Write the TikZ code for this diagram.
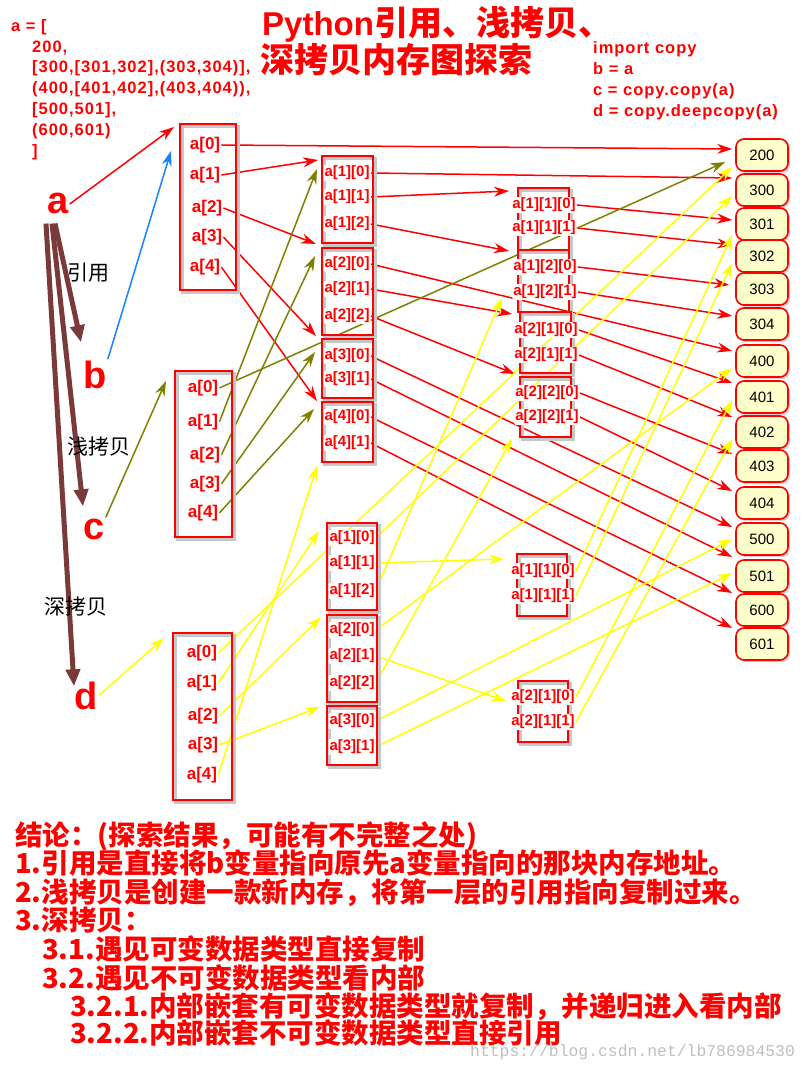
\documentclass[tikz,border=0pt]{standalone}
\usepackage{fontspec}
\setmainfont{Liberation Sans}
\newfontfamily\cjk{Noto Sans CJK SC}
\newfontfamily\codefont[LetterSpace=6]{Liberation Sans}
\newfontfamily\wmfont{Liberation Mono}
\usetikzlibrary{arrows.meta}
\usetikzlibrary{calc}
\usetikzlibrary{fit}
\usetikzlibrary{shadows}
\definecolor{ln1}{RGB}{255,0,0}
\definecolor{ln2}{RGB}{128,128,0}
\definecolor{ln3}{RGB}{255,255,0}
\definecolor{ln4}{RGB}{25,130,255}
\definecolor{brn}{RGB}{122,58,58}
\definecolor{valbg}{RGB}{255,255,204}
\pgfdeclarelayer{lines}
\pgfsetlayers{lines,main}

\begin{document}
\begin{tikzpicture} [
    x=1pt, y=-1pt,
    f/.style={-{Stealth[length=15pt,width=10pt]}, line width=1.5pt},
    bigarr/.style={draw=brn, line width=5pt, -{Triangle[length=17pt,width=14pt]}},
    lbl/.style={text=ln1, fill=white, rounded corners=2pt, font=\bfseries\fontsize{15}{15}\selectfont, inner sep=1pt},
    lbltop/.style={lbl, font=\bfseries\fontsize{17}{17}\selectfont},
    box/.style={
        draw=ln1, line width=2pt, inner sep=0pt,
        preaction={draw=black!22, line width=3pt, transform canvas={xshift=2.5pt,yshift=-2.5pt}}
    },
    val/.style={
        draw=ln1, line width=1.6pt, fill=valbg, rounded corners=8pt,
        minimum width=52pt, minimum height=32pt, inner sep=0pt,
        font=\fontsize{15}{15}\selectfont, text=black,
        drop shadow={shadow xshift=2pt, shadow yshift=-2pt, opacity=0.35}
    },
    varname/.style={text=ln1, font=\bfseries\fontsize{38}{38}\selectfont, inner sep=1pt, anchor=base},
    tagtxt/.style={text=black, font=\cjk\fontsize{21}{21}\selectfont},
    titletxt/.style={text=ln1, font=\bfseries\fontsize{33}{33}\selectfont, anchor=base west, inner sep=0pt},
    codetxt/.style={text=ln1, font=\codefont\bfseries\fontsize{16.5}{16.5}\selectfont, anchor=base west, inner sep=0pt},
    concl/.style={text=ln1, font=\cjk\bfseries\fontsize{27.5}{27.5}\selectfont, anchor=base west, inner sep=0pt},
    wm/.style={text=black!25, font=\wmfont\fontsize{16.4}{16.4}\selectfont, anchor=base west, inner sep=0pt}
]

\useasboundingbox (0,0) rectangle (806,1067);

% code and title
\node [titletxt] (title1) at (262,36) {Python{\cjk\fontsize{34}{34}\selectfont 引用、浅拷贝、}};
\node [titletxt] (title2) at (260,73) {\cjk\fontsize{34}{34}\selectfont 深拷贝内存图探索};

\node [codetxt] (c0) at (11,32)  {a = [};
\node [codetxt] (c1) at (32,53)  {200,};
\node [codetxt] (c2) at (32,73)  {[300,[301,302],(303,304)],};
\node [codetxt] (c3) at (32,94)  {(400,[401,402],(403,404)),};
\node [codetxt] (c4) at (32,115) {[500,501],};
\node [codetxt] (c5) at (32,136) {(600,601)};
\node [codetxt] (c6) at (32,157) {]};

\node [codetxt] (i0) at (593,54)  {import copy};
\node [codetxt] (i1) at (593,75)  {b = a};
\node [codetxt] (i2) at (593,96)  {c = copy.copy(a)};
\node [codetxt] (i3) at (593,117) {d = copy.deepcopy(a)};

% variables
\node [varname] (varA) at (58,214) {a};
\node [varname] (varB) at (95,388) {b};
\node [varname] (varC) at (94,539) {c};
\node [varname] (varD) at (86,709) {d};

\node [tagtxt] (tRef)     at (88,273) {引用};
\node [tagtxt] (tShallow) at (99,447) {浅拷贝};
\node [tagtxt] (tDeep)    at (76,607) {深拷贝};

% boxes
\node [box, fit={(180,124)(236,290)}] (bA) {};
\node [box, fit={(175,371)(232,537)}] (bC) {};
\node [box, fit={(173,633)(232,800)}] (bD) {};

\node [box, fit={(322,156)(373,243)}] (m1) {};
\node [box, fit={(322,248)(373,335)}] (m2) {};
\node [box, fit={(322,339)(373,398)}] (m3) {};
\node [box, fit={(322,402)(373,462)}] (m4) {};

\node [box, fit={(518,188)(569,250)}] (l11) {};
\node [box, fit={(518,250)(569,312)}] (l12) {};
\node [box, fit={(520,312)(571,373)}] (l21) {};
\node [box, fit={(520,377)(571,437)}] (l22) {};

\node [box, fit={(327,523)(377,610)}] (dm1) {};
\node [box, fit={(327,615)(377,702)}] (dm2) {};
\node [box, fit={(327,706)(377,765)}] (dm3) {};

\node [box, fit={(517,554)(567,616)}] (dl11) {};
\node [box, fit={(518,681)(568,742)}] (dl21) {};

% items
\node [lbltop] (a0) at (205,145) {a[0]};
\node [lbltop] (a1) at (205,175) {a[1]};
\node [lbltop] (a2) at (207,208) {a[2]};
\node [lbltop] (a3) at (207,237) {a[3]};
\node [lbltop] (a4) at (205,267) {a[4]};

\node [lbltop] (ca0) at (203,388) {a[0]};
\node [lbltop] (ca1) at (203,422) {a[1]};
\node [lbltop] (ca2) at (205,455) {a[2]};
\node [lbltop] (ca3) at (205,484) {a[3]};
\node [lbltop] (ca4) at (203,513) {a[4]};

\node [lbltop] (da0) at (202,653) {a[0]};
\node [lbltop] (da1) at (202,683) {a[1]};
\node [lbltop] (da2) at (203,716) {a[2]};
\node [lbltop] (da3) at (203,745) {a[3]};
\node [lbltop] (da4) at (202,775) {a[4]};

\node [lbl] (m10) at (347,173) {a[1][0]};
\node [lbl] (m11) at (347,197) {a[1][1]};
\node [lbl] (m12) at (347,224) {a[1][2]};
\node [lbl] (m20) at (347,264) {a[2][0]};
\node [lbl] (m21) at (347,289) {a[2][1]};
\node [lbl] (m22) at (347,316) {a[2][2]};
\node [lbl] (m30) at (347,356) {a[3][0]};
\node [lbl] (m31) at (347,379) {a[3][1]};
\node [lbl] (m40) at (347,417) {a[4][0]};
\node [lbl] (m41) at (347,443) {a[4][1]};

\node [lbl] (l110) at (544,205) {a[1][1][0]};
\node [lbl] (l111) at (544,228) {a[1][1][1]};
\node [lbl] (l120) at (545,267) {a[1][2][0]};
\node [lbl] (l121) at (545,292) {a[1][2][1]};
\node [lbl] (l210) at (546,330) {a[2][1][0]};
\node [lbl] (l211) at (546,355) {a[2][1][1]};
\node [lbl] (l220) at (547,393) {a[2][2][0]};
\node [lbl] (l221) at (547,417) {a[2][2][1]};

\node [lbl] (dm10) at (352,538) {a[1][0]};
\node [lbl] (dm11) at (352,563) {a[1][1]};
\node [lbl] (dm12) at (352,591) {a[1][2]};
\node [lbl] (dm20) at (352,630) {a[2][0]};
\node [lbl] (dm21) at (352,656) {a[2][1]};
\node [lbl] (dm22) at (352,683) {a[2][2]};
\node [lbl] (dm30) at (352,721) {a[3][0]};
\node [lbl] (dm31) at (352,747) {a[3][1]};

\node [lbl] (dl110) at (543,571) {a[1][1][0]};
\node [lbl] (dl111) at (543,596) {a[1][1][1]};
\node [lbl] (dl210) at (543,697) {a[2][1][0]};
\node [lbl] (dl211) at (543,722) {a[2][1][1]};

% values
\node [val] (v200) at (762,155) {200};
\node [val] (v300) at (762,190) {300};
\node [val] (v301) at (762,224) {301};
\node [val] (v302) at (762,256) {302};
\node [val] (v303) at (762,289) {303};
\node [val] (v304) at (762,324) {304};
\node [val] (v400) at (762,361) {400};
\node [val] (v401) at (762,397) {401};
\node [val] (v402) at (762,432) {402};
\node [val] (v403) at (762,466) {403};
\node [val] (v404) at (762,503) {404};
\node [val] (v500) at (762,539) {500};
\node [val] (v501) at (762,576) {501};
\node [val] (v600) at (762,610) {600};
\node [val] (v601) at (762,644) {601};

% conclusion
\node [concl] (k0) at (15,845)  {结论：(探索结果，可能有不完整之处)};
\node [concl] (k1) at (15,873)  {1.引用是直接将b变量指向原先a变量指向的那块内存地址。};
\node [concl] (k2) at (15,902)  {2.浅拷贝是创建一款新内存，将第一层的引用指向复制过来。};
\node [concl] (k3) at (15,930)  {3.深拷贝：};
\node [concl] (k4) at (42,959)  {3.1.遇见可变数据类型直接复制};
\node [concl] (k5) at (42,988)  {3.2.遇见不可变数据类型看内部};
\node [concl] (k6) at (70,1016) {3.2.1.内部嵌套有可变数据类型就复制，并递归进入看内部};
\node [concl] (k7) at (70,1043) {3.2.2.内部嵌套不可变数据类型直接引用};

\node [wm] (wmark) at (470,1056) {https://blog.csdn.net/lb786984530};

\begin{pgfonlayer}{lines}
\fill [white] (0,0) rectangle (806,1067);

% a -> b, c, d
\draw [bigarr] ($(varA.south)+(-3,8)$)  -- ($(varB.north)+(-14,-17)$);
\draw [bigarr] ($(varA.south)+(-6,8)$)  -- ($(varC.north)+(-11,-11)$);
\draw [bigarr] ($(varA.south)+(-12,8)$) -- ($(varD.north)+(-12,6)$);

% original a
\draw [f, ln1] (varA.east) -- ($(bA.north west)+(-5,4)$);
\draw [f, ln1] (a0.east) -- ($(v200.west)+(-3,-6)$);
\draw [f, ln1] (a1.east) -- ($(m1.north west)+(-3,5)$);
\draw [f, ln1] (a2.east) -- ($(m2.north west)+(-5,-3)$);
\draw [f, ln1] (a3.east) -- ($(m3.north west)+(-5,-2)$);
\draw [f, ln1] (a4.east) -- ($(m4.north west)+(-4,0)$);
\draw [f, ln1] (m10.east) -- ($(v300.west)+(-3,-12)$);
\draw [f, ln1] (m11.east) -- ($(l11.north west)+(-8,4)$);
\draw [f, ln1] (m12.east) -- ($(l12.north west)+(-8,2)$);
\draw [f, ln1] (m20.east) -- ($(v400.west)+(-3,-10)$);
\draw [f, ln1] (m21.east) -- ($(l21.north west)+(-7,3)$);
\draw [f, ln1] (m22.east) -- ($(l22.north west)+(-4,-2)$);
\draw [f, ln1] (m30.east) -- ($(v500.west)+(-3,-12)$);
\draw [f, ln1] (m31.east) -- ($(v501.west)+(-3,-19)$);
\draw [f, ln1] (m40.east) -- ($(v600.west)+(-3,-17)$);
\draw [f, ln1] (m41.east) -- ($(v601.west)+(-3,-16)$);
\draw [f, ln1] (l110.east) -- ($(v301.west)+(-3,-4)$);
\draw [f, ln1] (l111.east) -- ($(v302.west)+(-3,-11)$);
\draw [f, ln1] (l120.east) -- ($(v303.west)+(-6,-4)$);
\draw [f, ln1] (l121.east) -- ($(v304.west)+(-3,-8)$);
\draw [f, ln1] (l210.east) -- ($(v401.west)+(-3,-14)$);
\draw [f, ln1] (l211.east) -- ($(v402.west)+(-3,-15)$);
\draw [f, ln1] (l220.east) -- ($(v403.west)+(-3,-12)$);
\draw [f, ln1] (l221.east) -- ($(v404.west)+(-3,-12)$);

% b
\draw [f, ln4] (varB.north east) -- ($(bA.north west)+(-8,28)$);

% c: shallow copy
\draw [f, ln2] (varC.north east) -- ($(bC.north west)+(-8,11)$);
\draw [f, ln2] (ca0.east) -- ($(v200.west)+(-10,7)$);
\draw [f, ln2] (ca1.east) -- ($(m1.north west)+(-4,14)$);
\draw [f, ln2] (ca2.east) -- ($(m2.north west)+(-6,9)$);
\draw [f, ln2] (ca3.east) -- ($(m3.north west)+(-6,14)$);
\draw [f, ln2] (ca4.east) -- ($(m4.north west)+(-7,8)$);

% d: deep copy
\draw [f, ln3] (varD.east) -- ($(bD.north west)+(-8,6)$);
\draw [f, ln3] (da0.east) -- ($(v200.west)+(-3,12)$);
\draw [f, ln3] (da1.east) -- ($(dm1.north west)+(-7,9)$);
\draw [f, ln3] (da2.east) -- ($(dm2.north west)+(-5,3)$);
\draw [f, ln3] (da3.east) -- ($(dm3.north west)+(-6,2)$);
\draw [f, ln3] (da4.east) -- ($(m4.south west)+(-4,3)$);
\draw [f, ln3] (dm10.east) -- ($(v300.west)+(-3,6)$);
\draw [f, ln3] (dm11.east) -- ($(dl11.north west)+(-12,6)$);
\draw [f, ln3] (dm12.east) -- ($(l12.south west)+(-15,-15)$);
\draw [f, ln3] (dm20.east) -- ($(v400.west)+(-3,7)$);
\draw [f, ln3] (dm21.east) -- ($(dl21.north west)+(-11,21)$);
\draw [f, ln3] (dm22.east) -- ($(l22.south west)+(-7,1)$);
\draw [f, ln3] (dm30.east) -- ($(v500.west)+(-3,0)$);
\draw [f, ln3] (dm31.east) -- ($(v501.west)+(-3,-3)$);
\draw [f, ln3] (dl110.east) -- ($(v301.west)+(-3,11)$);
\draw [f, ln3] (dl111.east) -- ($(v302.west)+(-3,7)$);
\draw [f, ln3] (dl210.east) -- ($(v401.west)+(-3,3)$);
\draw [f, ln3] (dl211.east) -- ($(v402.west)+(-3,7)$);
\end{pgfonlayer}

\end{tikzpicture}
\end{document}
